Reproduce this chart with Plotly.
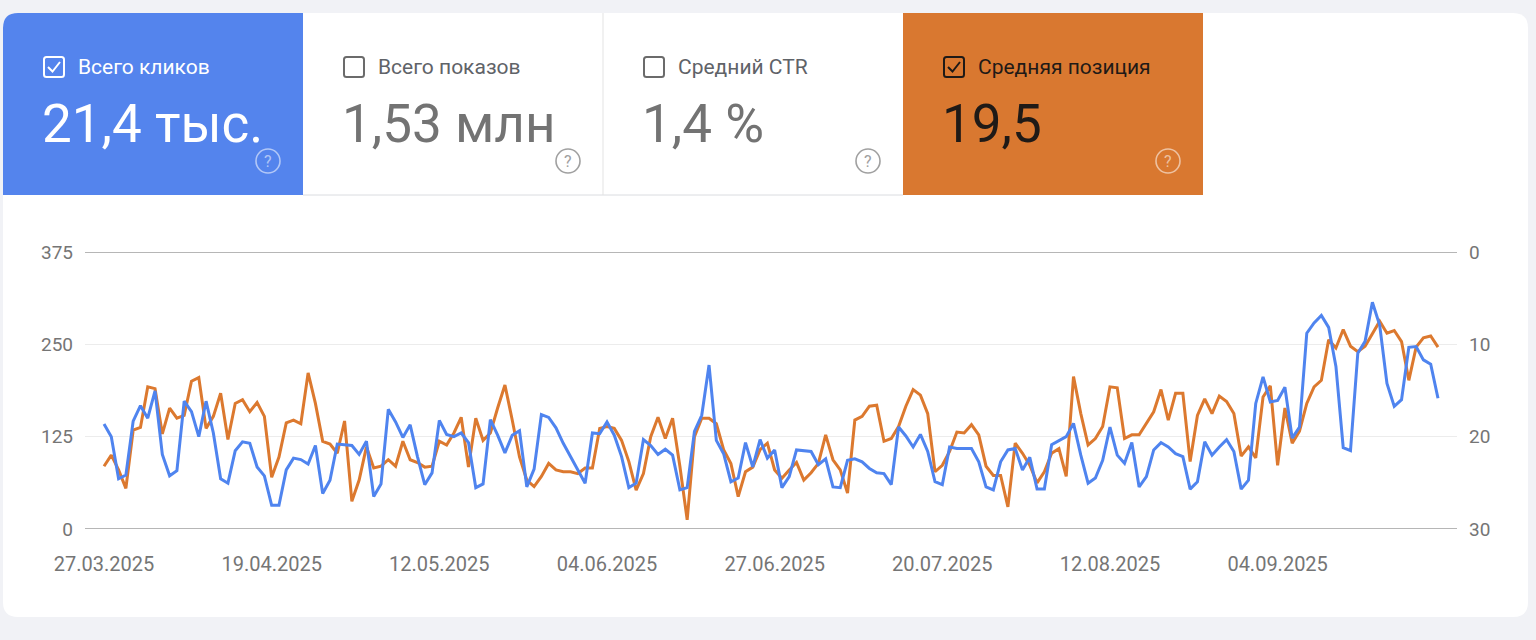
import pandas as pd
from plotly import graph_objects

W, H = 1536, 640

start_date = "2025-03-27"
tick_dates = ["2025-03-27", "2025-04-19", "2025-05-12", "2025-06-04",
              "2025-06-27", "2025-07-20", "2025-08-12", "2025-09-04"]
tick_labels = ["27.03.2025", "19.04.2025", "12.05.2025", "04.06.2025",
               "27.06.2025", "20.07.2025", "12.08.2025", "04.09.2025"]

clicks_ticks = [0, 125, 250, 375]
position_ticks = [0, 10, 20, 30]

# daily clicks (left axis)
clicks = [
	142, 125, 68, 73, 146, 167, 150, 187, 101, 72, 79, 173, 159, 125, 173, 130, 68, 62, 106, 118, 116, 84, 72, 32, 32,
	80, 96, 94, 88, 113, 48, 66, 115, 114, 113, 101, 119, 44, 61, 162, 145, 124, 141, 98, 60,
	76, 147, 128, 125, 130, 117, 56, 61, 148, 127, 103, 127, 133, 57, 81, 155, 151, 137, 116, 98,
	80, 62, 130, 129, 145, 127, 98, 56, 62, 121, 113, 101, 108, 100, 53, 56, 132, 154, 222, 120,
	102, 64, 69, 117, 84, 121, 96, 107, 56, 71, 107, 106, 105, 87, 95, 57, 56, 93, 95, 91,
	82, 76, 75, 60, 138, 126, 111, 128, 105, 64, 60, 111, 109, 109, 109, 91, 57, 53, 91, 107,
	109, 80, 97, 54, 54, 114, 120, 125, 143, 100, 62, 69, 93, 138, 100, 89, 117, 57, 71, 107,
	117, 111, 102, 98, 54, 64, 118, 100, 111, 121, 105, 54, 66, 170, 206, 172, 174, 192, 123, 138,
	265, 279, 289, 273, 220, 110, 106, 238, 254, 307, 276, 197, 166, 175, 246, 247, 229, 223, 177,
]

# daily average position (right axis, reversed)
position = [
	23.2, 22.0, 23.6, 25.6, 19.3, 19.0, 14.6, 14.8, 19.7, 16.9, 18.0, 17.7, 14.0, 13.6, 19.1, 17.8, 15.3, 20.3, 16.4, 16.0, 17.3, 16.3, 17.8, 24.4, 22.2,
	18.5, 18.2, 18.6, 13.1, 16.4, 20.5, 20.8, 21.8, 18.3, 27.0, 24.7, 21.1, 23.4, 23.2, 22.5, 23.2, 20.5, 22.5, 22.8, 23.3,
	23.2, 20.5, 20.9, 19.6, 17.9, 23.3, 18.0, 20.4, 19.6, 16.9, 14.4, 18.2, 22.2, 24.7, 25.4, 24.3, 22.9, 23.6, 23.8, 23.8,
	24.0, 23.4, 23.4, 19.1, 18.9, 19.1, 20.4, 22.7, 25.8, 24.0, 20.0, 17.9, 20.2, 18.0, 23.2, 29.0, 20.0, 18.0, 18.0, 18.6,
	21.4, 22.9, 26.5, 23.8, 23.3, 21.4, 20.7, 23.6, 24.5, 23.6, 22.8, 24.7, 23.9, 22.9, 19.8, 22.5, 23.6, 26.1, 18.2, 17.8,
	16.7, 16.6, 20.5, 20.2, 18.9, 16.7, 14.9, 15.5, 17.5, 23.8, 23.1, 21.6, 19.5, 19.6, 18.7, 19.8, 23.2, 24.2, 24.2, 27.6,
	20.7, 21.8, 23.1, 25.0, 23.8, 21.8, 21.3, 24.3, 13.5, 17.5, 20.9, 20.2, 18.9, 14.6, 14.7, 20.2, 19.8, 19.8, 18.6, 17.3,
	14.9, 18.2, 15.3, 15.3, 22.7, 17.7, 15.9, 17.5, 15.6, 16.2, 17.5, 22.1, 21.1, 22.3, 15.7, 14.5, 23.1, 16.9, 20.7, 19.4,
	16.4, 14.6, 13.9, 9.5, 10.4, 8.4, 10.2, 10.8, 10.2, 8.8, 7.5, 8.8, 8.5, 9.7, 13.9, 10.3, 9.3, 9.1, 10.3,
]

card_titles = ["Всего кликов", "Всего показов", "Средний CTR", "Средняя позиция"]
card_values = ["21,4 тыс.", "1,53 млн", "1,4 %", "19,5"]
card_checked = [True, False, False, True]

BLUE = "#4f84ef"
ORANGE = "#dc792f"
TILE_BLUE = "#5484ed"
TILE_ORANGE = "#d97830"
AXIS_TEXT = "#757575"
FONT = "Roboto"

dates = pd.date_range(start_date, periods=len(clicks), freq="D")


def px(x):
	return x / W


def py(y):
	return 1 - y / H


def rounded_path(x0, y0, x1, y1, r, corners=(True, True, True, True)):
	# corners: top-left, top-right, bottom-right, bottom-left (pixel coords)
	tl, tr, br, bl = corners
	p = lambda x, y: f"{px(x):.6f},{py(y):.6f}"
	d = "M " + p(x0 + (r if tl else 0), y0)
	d += " L " + p(x1 - (r if tr else 0), y0)
	if tr:
		d += " Q " + p(x1, y0) + " " + p(x1, y0 + r)
	d += " L " + p(x1, y1 - (r if br else 0))
	if br:
		d += " Q " + p(x1, y1) + " " + p(x1 - r, y1)
	d += " L " + p(x0 + (r if bl else 0), y1)
	if bl:
		d += " Q " + p(x0, y1) + " " + p(x0, y1 - r)
	d += " L " + p(x0, y0 + (r if tl else 0))
	if tl:
		d += " Q " + p(x0, y0) + " " + p(x0 + r, y0)
	return d + " Z"


fig = graph_objects.Figure()
fig.add_trace(graph_objects.Scatter(x=dates, y=position, mode="lines", yaxis="y",
                                    line=dict(color=ORANGE, width=3), hoverinfo="skip"))
fig.add_trace(graph_objects.Scatter(x=dates, y=clicks, mode="lines", yaxis="y2",
                                    line=dict(color=BLUE, width=3), hoverinfo="skip"))

shapes = []
annotations = []

# white card
shapes.append(dict(type="path", xref="paper", yref="paper", layer="below",
                   path=rounded_path(3, 13, 1528, 617, 15), fillcolor="white", line=dict(width=0)))
# metric tiles
tile_fill = [TILE_BLUE, "white", "white", TILE_ORANGE]
for i in range(4):
	x0 = 3 + 300 * i
	shapes.append(dict(type="path", xref="paper", yref="paper", layer="below",
	                   path=rounded_path(x0, 13, x0 + 300, 195, 15, (i == 0, False, False, False)),
	                   fillcolor=tile_fill[i], line=dict(width=0)))
shapes.append(dict(type="line", xref="paper", yref="paper", layer="below",
                   x0=px(303), x1=px(903), y0=py(195), y1=py(195), line=dict(color="#dadce0", width=1)))
shapes.append(dict(type="line", xref="paper", yref="paper", layer="below",
                   x0=px(603), x1=px(603), y0=py(13), y1=py(195), line=dict(color="#e3e3e3", width=1)))

title_colors = ["white", "#5f6368", "#5f6368", "#1f1a17"]
value_colors = ["white", "#737373", "#737373", "#1f1a17"]
box_colors = ["white", "#6b6b6b", "#6b6b6b", "#1f1a17"]
help_colors = ["rgba(255,255,255,0.55)", "#a0a0a0", "#a0a0a0", "rgba(255,255,255,0.55)"]

for i in range(4):
	ox = 300 * i
	# checkbox
	shapes.append(dict(type="path", xref="paper", yref="paper", layer="above",
	                   path=rounded_path(44 + ox, 57, 64 + ox, 77, 2.5),
	                   fillcolor="rgba(0,0,0,0)", line=dict(color=box_colors[i], width=2)))
	if card_checked[i]:
		shapes.append(dict(type="path", xref="paper", yref="paper", layer="above",
		                   path=f"M {px(48 + ox)},{py(67)} L {px(52.5 + ox)},{py(71.5)} L {px(60 + ox)},{py(62)}",
		                   line=dict(color=box_colors[i], width=2)))
	annotations.append(dict(text=card_titles[i], x=px(76 + ox), y=py(67), xref="paper", yref="paper",
	                        xanchor="left", yanchor="middle", showarrow=False,
	                        font=dict(family=FONT, size=21, color=title_colors[i])))
	annotations.append(dict(text=card_values[i], x=px(40 + ox), y=py(124), xref="paper", yref="paper",
	                        xanchor="left", yanchor="middle", showarrow=False,
	                        font=dict(family=FONT, size=53, color=value_colors[i])))
	# help icon
	shapes.append(dict(type="circle", xref="paper", yref="paper", layer="above",
	                   x0=px(256 + ox), x1=px(280 + ox), y0=py(149), y1=py(173),
	                   line=dict(color=help_colors[i], width=1.6)))
	annotations.append(dict(text="?", x=px(268 + ox), y=py(161.5), xref="paper", yref="paper",
	                        xanchor="center", yanchor="middle", showarrow=False,
	                        font=dict(family=FONT, size=16, color=help_colors[i])))

# darker top and bottom lines of the chart
for yv in (position_ticks[0], position_ticks[-1]):
	shapes.append(dict(type="line", xref="paper", yref="y", layer="above",
	                   x0=px(85), x1=px(1457), y0=yv, y1=yv, line=dict(color="#9e9e9e", width=1.6)))

x_start = dates[0] - pd.Timedelta(hours=62.6)
x_end = dates[-1] + pd.Timedelta(hours=62.6)

fig.update_layout(
	width=W, height=H,
	autosize=False,
	margin=dict(l=0, r=0, t=0, b=0, pad=0),
	paper_bgcolor="#f1f2f6",
	plot_bgcolor="rgba(0,0,0,0)",
	showlegend=False,
	shapes=shapes,
	annotations=annotations,
	font=dict(family=FONT, color=AXIS_TEXT),
	xaxis=dict(domain=[px(85), px(1457)], range=[x_start, x_end], type="date", automargin=False,
	           tickvals=tick_dates, ticktext=tick_labels, showgrid=False, zeroline=False,
	           showline=False, ticks="", ticklabelstandoff=21,
	           tickfont=dict(family=FONT, size=20, color=AXIS_TEXT)),
	yaxis=dict(domain=[py(529), py(252)], range=[position_ticks[-1], position_ticks[0]], side="right",
	           automargin=False, tickvals=position_ticks, showgrid=True, gridcolor="#ececec", gridwidth=1,
	           zeroline=False, showline=False, ticks="", ticklabelstandoff=11,
	           tickfont=dict(family=FONT, size=19, color=AXIS_TEXT)),
	yaxis2=dict(overlaying="y", side="left", range=[clicks_ticks[0], clicks_ticks[-1]], automargin=False,
	            tickvals=clicks_ticks, showgrid=False, zeroline=False, showline=False,
	            ticks="", ticklabelstandoff=11,
	            tickfont=dict(family=FONT, size=19, color=AXIS_TEXT)),
)

fig.write_html("out.html", config={"displayModeBar": False, "responsive": False},
               post_script="document.body.style.margin = '0';")
